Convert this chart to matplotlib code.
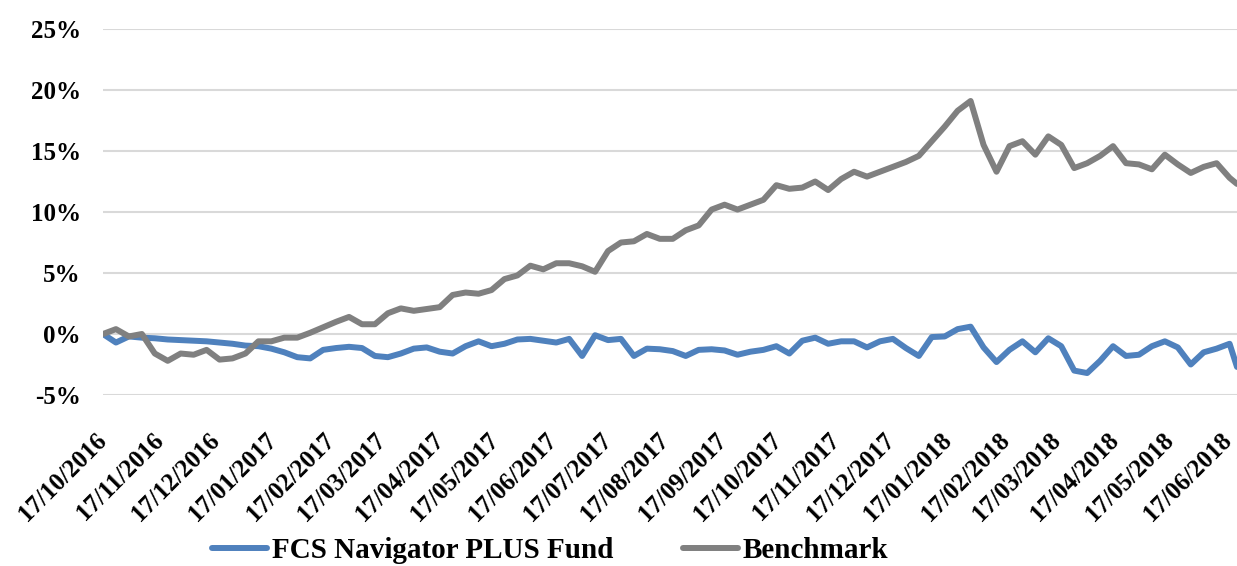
import matplotlib
matplotlib.use("Agg")
import matplotlib.pyplot as plt
import matplotlib.dates as mdates
import pandas as pd

# weekly readings from 17/10/2016, plus the last day shown
start_date = "2016-10-17"
end_date = "2018-06-22"

fund = [0.0, -0.7, -0.2, -0.3, -0.35, -0.45, -0.5, -0.55, -0.6, -0.7,
        -0.8, -0.95, -1.0, -1.2, -1.5, -1.9, -2.0, -1.3, -1.15, -1.05,
        -1.15, -1.8, -1.9, -1.6, -1.2, -1.1, -1.45, -1.6, -1.0, -0.6,
        -1.0, -0.8, -0.45, -0.4, -0.55, -0.7, -0.4, -1.8, -0.1, -0.5,
        -0.4, -1.8, -1.2, -1.25, -1.4, -1.8, -1.3, -1.25, -1.35, -1.7,
        -1.45, -1.3, -1.0, -1.6, -0.55, -0.3, -0.8, -0.6, -0.6, -1.1,
        -0.6, -0.4, -1.15, -1.8, -0.25, -0.2, 0.4, 0.6, -1.1, -2.3,
        -1.3, -0.6, -1.5, -0.35, -1.0, -3.0, -3.2, -2.2, -1.0, -1.8,
        -1.7, -1.0, -0.6, -1.1, -2.5, -1.5, -1.2, -0.8, -2.7]

benchmark = [0.0, 0.4, -0.2, 0.0, -1.6, -2.2, -1.6, -1.7, -1.3, -2.1,
             -2.0, -1.6, -0.6, -0.6, -0.3, -0.3, 0.1, 0.55, 1.0, 1.4,
             0.8, 0.8, 1.7, 2.1, 1.9, 2.05, 2.2, 3.2, 3.4, 3.3,
             3.6, 4.5, 4.8, 5.6, 5.3, 5.8, 5.8, 5.55, 5.1, 6.8,
             7.5, 7.6, 8.2, 7.8, 7.8, 8.5, 8.9, 10.2, 10.6, 10.2,
             10.6, 11.0, 12.2, 11.9, 12.0, 12.5, 11.8, 12.7, 13.3, 12.9,
             13.3, 13.7, 14.1, 14.6, 15.8, 17.0, 18.3, 19.1, 15.5, 13.3,
             15.4, 15.8, 14.7, 16.2, 15.5, 13.6, 14.0, 14.6, 15.4, 14.0,
             13.9, 13.5, 14.7, 13.9, 13.2, 13.7, 14.0, 12.8, 12.3]

y_ticks = [-5, 0, 5, 10, 15, 20, 25]

dates = list(pd.date_range(start_date, periods=len(fund) - 1, freq="7D"))
dates.append(pd.Timestamp(end_date))
tick_dates = pd.date_range("2016-10-01", "2018-06-01", freq="MS") + pd.Timedelta(days=16)

plt.rcParams["font.family"] = ["Liberation Serif", "DejaVu Serif"]
plt.rcParams["font.weight"] = "bold"

fig = plt.figure(figsize=(12.37, 5.66), dpi=100)
ax = fig.add_axes([103 / 1237, 1 - 395 / 566, 1 - 103 / 1237, (395 - 29) / 566])

ax.plot(dates, fund, color="#4F81BD", lw=4.3, label="FCS Navigator PLUS Fund", solid_capstyle="round")
ax.plot(dates, benchmark, color="#808080", lw=4.3, label="Benchmark", solid_capstyle="round")

ax.set_ylim(-5, 25)
ax.set_yticks(y_ticks)
ax.set_yticklabels([f"{t}%" for t in y_ticks], fontsize=18, fontweight="bold")
ax.set_xlim(pd.Timestamp(start_date), pd.Timestamp(end_date))
ax.set_xticks(tick_dates)
ax.xaxis.set_major_formatter(mdates.DateFormatter("%d/%m/%Y"))
for lab in ax.get_xticklabels():
    lab.set_rotation(45)
    lab.set_ha("right")
    lab.set_va("center")
    lab.set_rotation_mode("anchor")
    lab.set_fontsize(18)
    lab.set_fontweight("bold")

ax.grid(axis="y", color="#D9D9D9", lw=1.5)
ax.set_axisbelow(True)
ax.tick_params(length=0)
ax.tick_params(axis="y", pad=16)
ax.tick_params(axis="x", pad=30)
for s in ax.spines.values():
    s.set_visible(False)

fig.legend(loc="center", bbox_to_anchor=(550 / 1237, 1 - 551 / 566), ncol=2, frameon=False,
           prop={"size": 21, "weight": "bold"}, handlelength=1.9, columnspacing=2.4,
           handletextpad=0.15)

fig.savefig("out.png", dpi=100)
